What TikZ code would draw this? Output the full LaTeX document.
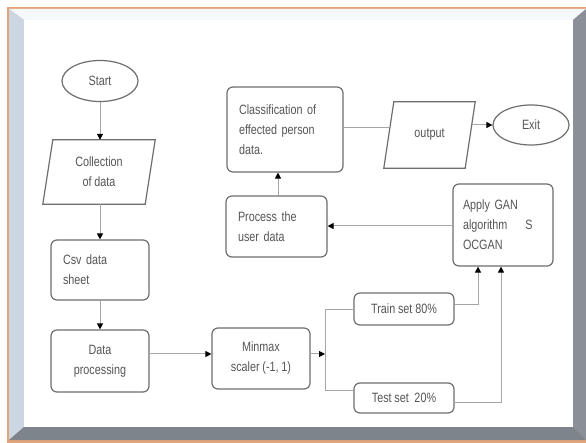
\documentclass[tikz,border=0pt]{standalone}
\usepackage{fontspec}
\setmainfont{Liberation Sans}[FakeStretch=0.8]
\usetikzlibrary{shapes.geometric,arrows.meta,calc}
\newcommand\diagfont{\fontsize{13.5}{20}\selectfont\spaceskip 2.8pt\relax}
\definecolor{txt}{HTML}{555555}
\definecolor{boxc}{HTML}{6E6E6E}
\definecolor{linec}{HTML}{A6A6A6}
\definecolor{framec}{HTML}{E2A57A}
\definecolor{topbev}{HTML}{F6F9FC}
\definecolor{leftbev}{HTML}{CBD6E2}
\definecolor{rightbev}{HTML}{8B8F97}
\definecolor{botbev}{HTML}{7E848C}
\begin{document}
\begin{tikzpicture}[x=1pt,y=-1pt,
  txtstyle/.style={text=txt, font=\diagfont},
  box/.style={txtstyle, draw=boxc, line width=1.2pt, rounded corners=6pt, inner sep=0pt, align=center},
  lbox/.style={txtstyle, draw=boxc, line width=1.2pt, rounded corners=6pt, inner ysep=0pt, inner xsep=12pt, align=left},
  oval/.style={txtstyle, ellipse, draw=boxc, line width=1.2pt, inner sep=0pt},
  para/.style={txtstyle, inner sep=0pt, align=center},
  paraline/.style={draw=boxc, line width=1.2pt, line join=miter},
  conn/.style={draw=linec, line width=1pt},
  arr/.style={conn, -{Triangle[length=6pt,width=6pt,color=black]}}
]
\useasboundingbox (0,0) rectangle (586,443);
% frame
\fill[white] (0,0) rectangle (586,443);
\fill[framec] (7,7) rectangle (586,443);
\fill[topbev] (9,9) -- (586,9) -- (573,20) -- (24,20) -- cycle;
\fill[leftbev] (9,9) -- (24,20) -- (24,427) -- (9,440) -- cycle;
\fill[rightbev] (586,9) -- (586,440) -- (573,427) -- (573,20) -- cycle;
\fill[botbev] (9,440) -- (586,440) -- (573,427) -- (24,427) -- cycle;
\fill[white] (24,20) rectangle (573,427);

% nodes
\node[oval, minimum width=76pt, minimum height=41pt] (start) at (100,81) {Start};
\node[para, minimum width=112pt, minimum height=64pt] (coll) at (99,172) {Collection\\of data};
\draw[paraline] ([xshift=10pt]coll.north west) -- (coll.north east) -- ([xshift=-10pt]coll.south east) -- (coll.south west) -- cycle;
\node[lbox, text width=74pt, minimum height=60pt] (csv) at (100,270) {Csv data\\sheet};
\node[box, minimum width=98pt, minimum height=62pt] (dp) at (100,361) {Data\\processing};
\node[box, minimum width=98pt, minimum height=61pt] (mm) at (261,358.5) {Minmax\\scaler (-1, 1)};
\node[box, minimum width=100pt, minimum height=32pt] (train) at (404,309) {Train set 80\%};
\node[box, minimum width=100pt, minimum height=30pt] (test) at (404,398) {Test set\ \ 20\%};
\node[lbox, inner xsep=10pt, text width=80pt, minimum height=82pt] (gan) at (503,225) {Apply GAN\\\mbox{algorithm\ \ \ \ S}\\OCGAN};
\node[lbox, text width=77pt, minimum height=61pt] (proc) at (276.5,226.5) {Process the\\user data};
\node[lbox, text width=92pt, minimum height=85pt] (cls) at (285,129.5) {Classification of\\effected person\\data.};
\node[para, minimum width=91pt, minimum height=66pt] (out) at (429.5,135) {output};
\draw[paraline] ([xshift=10pt]out.north west) -- (out.north east) -- ([xshift=-10pt]out.south east) -- (out.south west) -- cycle;
\node[oval, minimum width=76pt, minimum height=40pt] (exit) at (531,125) {Exit};

% connectors
\draw[arr] (start) -- (coll.north -| start);
\draw[arr] (coll.south -| start) -- (csv.north -| start);
\draw[arr] (csv.south -| start) -- (dp.north -| start);
\coordinate (dpA) at (149,354);
\draw[arr] (dpA) -- (dpA -| mm.west);
\coordinate (bm) at (325,354);
\coordinate (bt) at (325,310);
\coordinate (bb) at (325,390);
\draw[arr] (bm -| mm.east) -- (bm);
\draw[conn] (bt) -- (bb);
\draw[conn] (bt) -- (bt -| train.west);
\draw[conn] (bb) -- (bb -| test.west);
\coordinate (tr) at (478,305);
\coordinate (te) at (501,402);
\draw[arr] (tr -| train.east) -| (tr |- gan.south);
\draw[arr] (te -| test.east) -| (te |- gan.south);
\coordinate (gp) at (453,226);
\draw[arr] (gp -| gan.west) -- (gp -| proc.east);
\coordinate (pc) at (278,200);
\draw[arr] (pc |- proc.north) -- (pc |- cls.south);
\coordinate (outL) at (390,128);
\draw[conn] (outL -| cls.east) -- (outL);
\coordinate (outR) at (471.5,125);
\draw[arr] (outR) -- (exit.west);
\end{tikzpicture}
\end{document}
